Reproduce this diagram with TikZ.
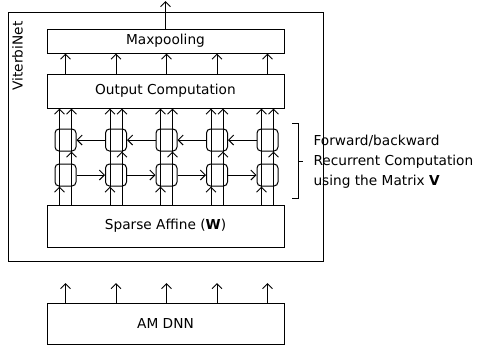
\documentclass[tikz,border=0pt]{standalone}
\usepackage{fontspec}
\setmainfont{DejaVu Sans}
\usetikzlibrary{arrows.meta,calc}
\begin{document}
\begin{tikzpicture}[x=1pt,y=-1pt,line width=1pt,
  font=\fontsize{13.7}{20}\selectfont,
  blk/.style={draw,rectangle,inner sep=0pt,minimum width=237pt},
  cell/.style={draw,rectangle,rounded corners=4pt,inner sep=0pt,minimum width=21pt,minimum height=22pt},
  arr/.style={-{Straight Barb[length=5pt,width=10pt]}}]
\useasboundingbox (0,0) rectangle (477,354);
% outer box
\node[draw,rectangle,inner sep=0pt,minimum width=315pt,minimum height=249pt] (vnet) at (165.5,136.5) {};
\node[rotate=90] (vlabel) at (17.5,56) {ViterbiNet};
% blocks
\node[blk,minimum height=24pt] (maxp) at (165.5,41) {Maxpooling};
\node[blk,minimum height=34pt] (outc) at (165.5,91) {Output Computation};
\node[blk,minimum height=42pt] (spaff) at (165.5,226) {Sparse Affine (\textbf{W})};
\node[blk,minimum height=41pt] (amdnn) at (165.5,323.5) {AM DNN};
% output arrow
\coordinate (topend) at (165.5,1);
\draw[arr] (maxp.north) -- (topend);
% columns
\foreach \i/\x in {1/65.5,2/116,3/166.5,4/217,5/267.5}{
  \node[cell] (t\i) at (\x,140) {};
  \node[cell] (b\i) at (\x,175) {};
  \coordinate (L\i) at (\x-6,0);
  \coordinate (R\i) at (\x+6,0);
  \coordinate (C\i) at (\x,0);
  \draw[arr] (L\i |- spaff.north) -- (L\i |- b\i.south);
  \draw[arr] (L\i |- b\i.south) -- (L\i |- outc.south);
  \draw[arr] (R\i |- spaff.north) -- (R\i |- t\i.south);
  \draw[arr] (R\i |- t\i.south) -- (R\i |- outc.south);
  \draw[arr] (C\i |- outc.north) -- (C\i |- maxp.south);
  \coordinate (A\i) at (\x,283);
  \draw[arr] (C\i |- amdnn.north) -- (A\i);
}
\foreach \i/\j in {1/2,2/3,3/4,4/5}{
  \draw[arr] (b\i.east) -- (b\j.west);
  \draw[arr] (t\j.west) -- (t\i.east);
}
% brace
\coordinate (brtop) at (292,123);
\coordinate (brbot) at (292,198);
\coordinate (brmid) at (298,161);
\draw (brtop) -- (298,123) -- (298,198) -- (brbot);
\draw (brmid) -- ++(5,0);
\node[anchor=west,align=left,inner sep=0pt] (desc) at (313,162) {Forward/backward\\Recurrent Computation\\using the Matrix \textbf{V}};
\end{tikzpicture}
\end{document}
